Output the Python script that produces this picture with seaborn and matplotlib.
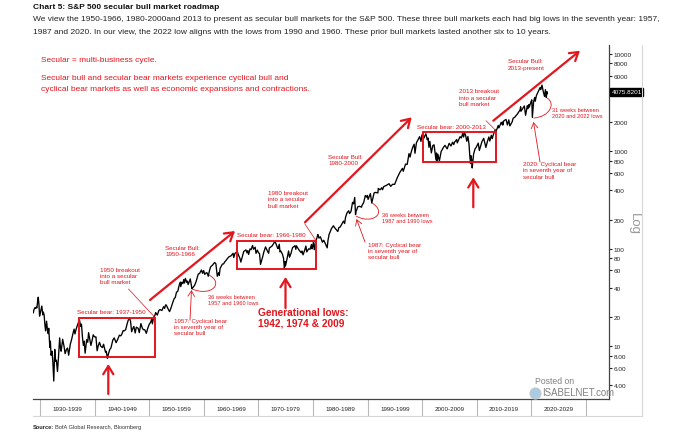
import numpy as np
import pandas as pd
import matplotlib
matplotlib.use("Agg")
import matplotlib.pyplot as plt
from matplotlib import font_manager
from matplotlib.ticker import FixedLocator, FuncFormatter, NullLocator
from matplotlib.patches import Rectangle, FancyArrowPatch, PathPatch
from matplotlib.path import Path
import matplotlib.transforms as mtransforms
import seaborn as sns

# ---------------- data ----------------
dates = [
    1928.72, 1928.85, 1928.95, 1929.05, 1929.15, 1929.25, 1929.38, 1929.50, 1929.62, 1929.75,
    1929.87, 1929.95, 1930.10, 1930.28, 1930.45, 1930.55, 1930.70, 1930.85, 1930.97, 1931.15,
    1931.30, 1931.45, 1931.55, 1931.75, 1931.85, 1931.97, 1932.15, 1932.30, 1932.47, 1932.65,
    1932.80, 1932.95, 1933.15, 1933.35, 1933.55, 1933.70, 1933.82, 1934.10, 1934.35, 1934.55,
    1934.80, 1935.00, 1935.20, 1935.50, 1935.75, 1935.97, 1936.20, 1936.35, 1936.60, 1936.90,
    1937.18, 1937.40, 1937.55, 1937.75, 1937.90, 1938.05, 1938.22, 1938.50, 1938.70, 1938.85,
    1939.05, 1939.28, 1939.50, 1939.70, 1939.95, 1940.20, 1940.42, 1940.60, 1940.85, 1941.10,
    1941.40, 1941.60, 1941.95, 1942.10, 1942.30, 1942.50, 1942.75, 1942.95, 1943.30, 1943.55,
    1943.90, 1944.20, 1944.50, 1944.75, 1944.95, 1945.20, 1945.40, 1945.65, 1945.97, 1946.15,
    1946.40, 1946.55, 1946.75, 1946.97, 1947.15, 1947.40, 1947.60, 1947.95, 1948.15, 1948.45,
    1948.70, 1948.90, 1949.15, 1949.45, 1949.70, 1949.97, 1950.25, 1950.45, 1950.55, 1950.80,
    1950.97, 1951.15, 1951.45, 1951.75, 1951.97, 1952.30, 1952.60, 1952.80, 1952.97, 1953.10,
    1953.45, 1953.70, 1953.97, 1954.30, 1954.55, 1954.75, 1954.97, 1955.20, 1955.50, 1955.70,
    1955.75, 1955.97, 1956.15, 1956.30, 1956.45, 1956.60, 1956.85, 1956.97, 1957.10, 1957.50,
    1957.80, 1957.97, 1958.30, 1958.55, 1958.97, 1959.20, 1959.55, 1959.75, 1959.95, 1960.15,
    1960.45, 1960.60, 1960.80, 1960.97, 1961.20, 1961.40, 1961.60, 1961.97, 1962.20, 1962.45,
    1962.70, 1962.82, 1962.97, 1963.40, 1963.60, 1963.85, 1963.97, 1964.30, 1964.60, 1964.97,
    1965.35, 1965.47, 1965.70, 1965.97, 1966.10, 1966.35, 1966.60, 1966.77, 1966.97, 1967.30,
    1967.70, 1967.90, 1968.05, 1968.20, 1968.45, 1968.65, 1968.92, 1969.10, 1969.40, 1969.55,
    1969.80, 1969.97, 1970.20, 1970.38, 1970.55, 1970.80, 1970.97, 1971.30, 1971.60, 1971.87,
    1972.00, 1972.50, 1972.97, 1973.02, 1973.45, 1973.60, 1973.82, 1973.95, 1974.10, 1974.40,
    1974.60, 1974.76, 1974.87, 1974.97, 1975.30, 1975.52, 1975.70, 1975.97, 1976.25, 1976.70,
    1976.85, 1976.97, 1977.40, 1977.85, 1977.97, 1978.18, 1978.50, 1978.70, 1978.85, 1979.20,
    1979.45, 1979.72, 1979.83, 1979.97, 1980.10, 1980.23, 1980.50, 1980.90, 1980.97, 1981.10,
    1981.35, 1981.73, 1981.97, 1982.30, 1982.60, 1982.75, 1982.95, 1983.40, 1983.75, 1983.97,
    1984.55, 1984.75, 1984.97, 1985.30, 1985.60, 1985.80, 1985.97, 1986.25, 1986.55, 1986.70,
    1986.97, 1987.25, 1987.45, 1987.65, 1987.80, 1987.90, 1987.97, 1988.20, 1988.50, 1988.90,
    1988.97, 1989.30, 1989.60, 1989.80, 1989.97, 1990.10, 1990.52, 1990.78, 1990.97, 1991.20,
    1991.50, 1991.90, 1991.97, 1992.30, 1992.60, 1992.75, 1992.97, 1993.50, 1993.95, 1994.25,
    1994.60, 1994.97, 1995.50, 1995.97, 1996.40, 1996.55, 1996.97, 1997.28, 1997.60, 1997.80,
    1997.97, 1998.30, 1998.55, 1998.70, 1998.97, 1999.30, 1999.55, 1999.80, 1999.97, 2000.20,
    2000.30, 2000.70, 2000.95, 2001.10, 2001.26, 2001.42, 2001.70, 2001.97, 2002.20, 2002.55,
    2002.65, 2002.78, 2002.90, 2003.18, 2003.50, 2003.97, 2004.20, 2004.60, 2004.97, 2005.30,
    2005.60, 2005.80, 2005.97, 2006.35, 2006.45, 2006.97, 2007.20, 2007.45, 2007.62, 2007.78,
    2007.97, 2008.20, 2008.40, 2008.60, 2008.75, 2008.88, 2008.97, 2009.10, 2009.19, 2009.45,
    2009.70, 2009.97, 2010.30, 2010.50, 2010.97, 2011.30, 2011.70, 2011.97, 2012.25, 2012.43,
    2012.70, 2012.88, 2012.97, 2013.40, 2013.50, 2013.97, 2014.08, 2014.50, 2014.60, 2014.70,
    2014.80, 2014.97, 2015.40, 2015.65, 2015.90, 2016.10, 2016.50, 2016.70, 2016.97, 2017.50,
    2017.97, 2018.07, 2018.12, 2018.75, 2018.98, 2019.30, 2019.42, 2019.60, 2019.65, 2019.97,
    2020.12, 2020.22, 2020.45, 2020.65, 2020.75, 2020.97, 2021.40, 2021.65, 2021.75, 2021.99,
    2022.20, 2022.45, 2022.62, 2022.78, 2022.88, 2022.92, 2022.95,
]
spx = [
    22.0, 24.0, 24.4, 25.0, 24.5, 25.2, 24.8, 28.5, 31.9, 27.0,
    20.4, 21.5, 23.3, 25.9, 21.0, 22.5, 21.0, 16.5, 14.4, 18.1,
    15.0, 13.5, 15.3, 9.7, 11.3, 8.1, 8.9, 6.9, 4.4, 9.3,
    7.0, 7.2, 5.5, 8.0, 12.2, 9.6, 8.9, 11.8, 10.0, 8.4,
    9.3, 9.6, 8.1, 10.5, 11.8, 13.4, 15.0, 13.4, 15.2, 17.0,
    18.7, 16.0, 16.9, 12.0, 10.2, 11.3, 8.5, 11.7, 11.0, 13.8,
    12.0, 10.2, 11.5, 13.1, 12.5, 12.5, 9.0, 10.0, 11.0, 10.0,
    9.7, 10.5, 8.7, 8.9, 7.5, 8.4, 9.3, 9.6, 11.6, 12.2,
    10.9, 11.8, 13.0, 12.8, 13.3, 14.5, 14.4, 14.8, 17.4, 18.7,
    19.2, 18.0, 14.1, 15.3, 16.0, 13.7, 15.7, 15.3, 13.8, 17.1,
    15.4, 14.8, 14.8, 13.6, 15.3, 16.8, 17.7, 19.3, 17.0, 20.0,
    20.4, 22.2, 20.9, 23.4, 23.8, 23.3, 25.5, 24.5, 26.6, 26.5,
    24.1, 22.7, 24.8, 28.3, 30.9, 31.7, 35.9, 36.6, 43.0, 45.6,
    41.0, 45.5, 44.0, 48.5, 44.6, 49.7, 45.4, 46.7, 43.0, 49.1,
    39.0, 40.0, 42.3, 45.9, 55.2, 55.9, 60.7, 56.1, 59.9, 54.7,
    57.0, 56.5, 52.3, 58.1, 65.0, 66.7, 68.4, 72.6, 70.0, 52.3,
    57.0, 53.5, 63.1, 69.9, 70.0, 74.0, 75.0, 79.5, 83.0, 84.8,
    90.0, 81.6, 90.0, 92.4, 94.1, 86.0, 80.0, 73.2, 80.3, 94.0,
    97.6, 91.0, 96.0, 87.7, 100.0, 98.0, 108.4, 99.0, 104.0, 90.0,
    97.0, 92.0, 89.0, 69.3, 75.0, 84.0, 92.2, 104.8, 96.0, 90.2,
    102.1, 107.0, 118.1, 120.2, 104.0, 100.5, 111.4, 93.0, 95.0, 88.0,
    80.0, 62.3, 74.0, 67.1, 82.0, 95.2, 82.1, 90.2, 103.0, 107.8,
    99.0, 107.5, 98.0, 91.0, 95.1, 86.9, 98.0, 106.9, 93.0, 100.0,
    99.0, 111.0, 100.0, 107.9, 118.0, 98.2, 118.0, 140.5, 135.8, 129.0,
    133.0, 117.0, 122.6, 112.0, 102.4, 122.0, 140.6, 162.0, 172.6, 164.9,
    150.7, 166.0, 167.2, 180.0, 193.0, 182.0, 211.3, 235.0, 246.0, 230.0,
    242.2, 300.0, 290.0, 336.8, 224.8, 245.0, 247.1, 270.0, 273.5, 268.0,
    277.7, 300.0, 353.0, 340.0, 353.4, 322.0, 368.9, 295.5, 330.2, 375.0,
    380.0, 375.0, 417.1, 404.0, 424.0, 405.0, 435.7, 450.0, 466.5, 438.0,
    460.0, 459.3, 545.0, 615.9, 670.0, 626.0, 740.7, 737.0, 950.0, 876.0,
    970.4, 1110.0, 1187.0, 957.0, 1229.2, 1330.0, 1418.0, 1268.0, 1469.3, 1527.0,
    1360.0, 1520.0, 1320.0, 1373.0, 1103.0, 1270.0, 966.0, 1148.0, 1170.0, 819.0,
    965.0, 776.8, 936.0, 800.7, 1000.0, 1111.9, 1155.0, 1063.0, 1211.9, 1137.0,
    1245.0, 1177.0, 1248.3, 1325.0, 1223.7, 1418.3, 1374.0, 1530.0, 1406.7, 1565.2,
    1468.4, 1273.0, 1426.0, 1200.0, 900.0, 752.4, 903.3, 820.0, 676.5, 940.0,
    1057.0, 1115.1, 1217.3, 1022.6, 1257.6, 1363.6, 1099.2, 1257.6, 1408.5, 1278.0,
    1465.8, 1353.0, 1426.2, 1669.0, 1573.0, 1848.4, 1741.9, 1978.0, 1909.0, 2011.0,
    1862.5, 2058.9, 2130.8, 1867.6, 2109.0, 1829.1, 2000.5, 2190.0, 2238.8, 2430.0,
    2673.6, 2872.9, 2581.0, 2930.8, 2351.1, 2945.0, 2744.5, 3025.0, 2847.0, 3230.8,
    3386.2, 2237.4, 3232.0, 3580.8, 3281.0, 3756.1, 4232.0, 4536.0, 4307.0, 4796.6,
    4170.0, 3666.8, 4305.2, 3577.0, 4080.0, 3900.0, 4075.8,
]
last_value_label = "4075.8201"
ytick_values = [4, 6, 8, 10, 20, 40, 60, 80, 100, 200, 400, 600, 800, 1000, 2000, 6000, 8000, 10000]
decades = list(range(1930, 2030, 10))

title = "Chart 5: S&P 500 secular bull market roadmap"
subtitle1 = ("We view the 1950-1966, 1980-2000and 2013 to present as secular bull markets for the S&P 500. "
             "These three bull markets each had big lows in the seventh year: 1957,")
subtitle2 = ("1987 and 2020. In our view, the 2022 low aligns with the lows from 1990 and 1960. "
             "These prior bull markets lasted another six to 10 years.")
red_note1 = "Secular = multi-business cycle."
red_note2 = "Secular bull and secular bear markets experience cyclical bull and"
red_note3 = "cyclical bear markets as well as economic expansions and contractions."

# ---------------- style ----------------
sns.set_theme(style="white")
names = {f.name for f in font_manager.fontManager.ttflist}
if "Liberation Sans Narrow" in names:
    NARROW, K = "Liberation Sans Narrow", 1.0
else:
    NARROW, K = "Liberation Sans", 0.82
plt.rcParams["font.family"] = [NARROW, "DejaVu Sans"]

RED = "#E3151D"
W, H = 690, 435
fig = plt.figure(figsize=(W / 100, H / 100), dpi=100)
fig.patch.set_facecolor("white")


def F(x, y):
    return (x / W, 1 - y / H)


# main axes (pixel frame: x 33.3-609.3, y 46-399.5)
ax = fig.add_axes([33.3 / W, 1 - 399.5 / H, (609.3 - 33.3) / W, (399.5 - 46) / H])
df = pd.DataFrame({"date": dates, "spx": spx})
sns.lineplot(data=df, x="date", y="spx", ax=ax, color="black", linewidth=0.95,
             estimator=None, sort=False)
ax.set_yscale("log")
ax.set_xlim(1928.717, 2034.33)
ax.set_ylim(10 ** 0.4642, 10 ** 4.0925)
ax.set_xlabel("")
ax.set_ylabel("")
ax.set_xticks([])
ax.yaxis.tick_right()
ax.yaxis.set_major_locator(FixedLocator(ytick_values))
ax.yaxis.set_minor_locator(NullLocator())
ax.yaxis.set_major_formatter(FuncFormatter(lambda v, p: f"{v:.2f}" if v < 10 else f"{int(round(v))}"))
ax.tick_params(axis="y", which="major", direction="out", length=2.2, width=0.8, pad=0.8,
               labelsize=5.6 * K, color="#222222", labelcolor="#222222")
for s in ["left", "top"]:
    ax.spines[s].set_visible(False)
for s in ["right", "bottom"]:
    ax.spines[s].set_visible(True)
    ax.spines[s].set_color("#444444")
    ax.spines[s].set_linewidth(0.9)

# last value tag
ax.text(1.004, 4075.82, last_value_label, transform=ax.get_yaxis_transform(),
        ha="left", va="center", fontsize=5.6 * K, color="white", clip_on=False,
        bbox=dict(boxstyle="square,pad=0.2", fc="black", ec="black"))

# decade strip
blend = mtransforms.blended_transform_factory(ax.transData, fig.transFigure)
y_top, y_bot = 1 - 399.5 / H, 1 - 416.7 / H
for d in decades + [2030]:
    ax.plot([d, d], [y_top, y_bot], transform=blend, color="#b8b8b8", lw=0.8, clip_on=False)
for d in decades:
    ax.text(d + 5, 1 - 410 / H, f"{d}-{d + 9}", transform=blend, ha="center", va="center",
            fontsize=5.5 * K, color="#222222", clip_on=False)
fig.add_artist(plt.Line2D([642 / W, 642 / W], [1 - 46 / H, y_bot], transform=fig.transFigure,
                          color="#d6d6d6", lw=0.8))
fig.add_artist(plt.Line2D([33.3 / W, 642 / W], [y_bot, y_bot], transform=fig.transFigure,
                          color="#d6d6d6", lw=0.8))

# "Log" label
fig.text(*F(634, 224), "Log", rotation=270, ha="center", va="center", fontsize=9.5,
         color="#9a9a9a", family="Liberation Sans")


# ---------------- text helpers ----------------
def T(x, y, s, size, color=RED, weight="normal", ls=1.0, family=None, **kw):
    ytop = y - 0.62 * size * 100 / 72
    fig.text(x / W, 1 - ytop / H, s, fontsize=size, color=color, fontweight=weight,
             linespacing=ls, va="top", ha="left", family=family or [NARROW, "DejaVu Sans"], **kw)


def box(x0, y0, x1, y1):
    fig.add_artist(Rectangle(F(x0, y1), (x1 - x0) / W, (y1 - y0) / H, transform=fig.transFigure,
                             fill=False, ec=RED, lw=1.4))


def arrow(p0, p1, lw=1.6, ms=13, style="->,head_length=0.45,head_width=0.28"):
    fig.add_artist(FancyArrowPatch(F(*p0), F(*p1), transform=fig.transFigure, arrowstyle=style,
                                   mutation_scale=ms, color=RED, lw=lw, shrinkA=0, shrinkB=0))


def line(p0, p1, lw=0.5):
    fig.add_artist(plt.Line2D([p0[0] / W, p1[0] / W], [1 - p0[1] / H, 1 - p1[1] / H],
                              transform=fig.transFigure, color=RED, lw=lw))


def curve(pts, lw=0.6):
    verts = [F(*p) for p in pts]
    path = Path(verts, [Path.MOVETO, Path.CURVE4, Path.CURVE4, Path.CURVE4])
    fig.add_artist(PathPatch(path, transform=fig.transFigure, fc="none", ec=RED, lw=lw))


# header
T(33, 9, title, 7.4 * K, color="#111111", weight="bold")
T(33, 21, subtitle1, 7.4 * K, color="#222222")
T(33, 34, subtitle2, 7.4 * K, color="#222222")
T(41, 62, red_note1, 7.3 * K)
T(41, 80, red_note2, 7.3 * K)
T(41, 91.5, red_note3, 7.3 * K)
T(33, 429, "Source:", 5.0 * K, color="#222222", weight="bold")
T(55, 429, "BofA Global Research, Bloomberg", 5.0 * K, color="#333333")

# boxes
box(78.7, 319, 155, 358.3)
box(237.3, 242.3, 316, 270)
box(423.3, 132.5, 496, 162.5)

SM = 5.5 * K
LS = 1.3
T(76.7, 314.3, "Secular bear: 1937-1950", SM)
T(236.7, 236.7, "Secular bear: 1966-1980", SM)
T(416.7, 129, "Secular bear: 2000-2013", SM)

T(100, 271.7, "1950 breakout\ninto a secular\nbull market", SM, ls=LS)
T(268.3, 195, "1980 breakout\ninto a secular\nbull market", SM, ls=LS)
T(459.3, 93.3, "2013 breakout\ninto a secular\nbull market", SM, ls=LS)
line((128.5, 290), (155, 318.5))
line((305, 225), (316, 241.7))
line((486, 121.7), (496, 131.7))

T(165, 250, "Secular Bull:\n1950-1966", SM, ls=LS)
T(328.3, 158.5, "Secular Bull:\n1980-2000", SM, ls=LS)
T(508, 63.3, "Secular Bull:\n2013-present", SM, ls=LS)
arrow((150, 301), (235, 232))
arrow((305, 223.3), (411.7, 118.3))
arrow((493.3, 121.7), (580, 51.7))

# generational lows
arrow((108.3, 395), (108.3, 365))
arrow((285.5, 309), (285.5, 278))
arrow((473.3, 208.3), (473.3, 178.3))
T(258, 314.5, "Generational lows:\n1942, 1974 & 2009", 8.9 * K, weight="bold", ls=1.05)

# cyclical bears
T(174, 322.7, "1957: Cyclical bear\nin seventh year of\nsecular bull", SM, ls=LS)
T(368.3, 246.7, "1987: Cyclical bear\nin seventh year of\nsecular bull", SM, ls=LS)
T(523.3, 166, "2020: Cyclical bear\nin seventh year of\nsecular bull", SM, ls=LS)
thin = "->,head_length=0.5,head_width=0.3"
arrow((190, 321), (191.5, 291), lw=0.6, ms=8, style=thin)
arrow((365, 243), (356.5, 220), lw=0.6, ms=8, style=thin)
arrow((540, 163), (533.5, 123), lw=0.6, ms=8, style=thin)

# weeks between
T(208.5, 299, "36 weeks between\n1957 and 1960 lows", 5.0 * K, ls=1.2)
T(381.7, 216.7, "36 weeks between\n1987 and 1990 lows", 5.0 * K, ls=1.2)
T(551.7, 111.7, "31 weeks between\n2020 and 2022 lows", 5.0 * K, ls=1.2)
curve([(192, 290), (212, 298), (224, 284), (209, 276)])
curve([(356, 217), (372, 226), (388, 214), (372, 204)])
curve([(533.5, 119), (550, 118), (556, 104), (547, 99)])

# watermark
fig.text(*F(535, 381.5), "Posted on", fontsize=6.2, color="#808080", va="center", ha="left",
         family="Liberation Sans")
fig.text(*F(542, 393.5), "ISABELNET.com", fontsize=6.9, color="#808080", va="center", ha="left",
         family="Liberation Sans")
fig.add_artist(plt.Line2D([535 / W], [1 - 394 / H], marker="o", markersize=8,
                          mfc="#a9cbe3", mec="#c9c9c9", mew=0.8, transform=fig.transFigure))

fig.savefig("out.png", dpi=100, facecolor="white")
